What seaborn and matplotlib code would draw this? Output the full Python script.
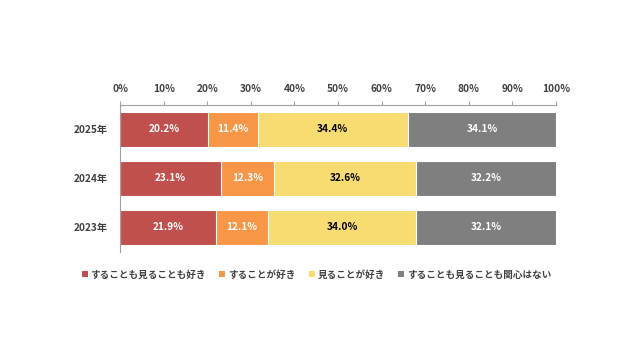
# plot.py
# 100% stacked bar chart of survey answers by year

import seaborn as sns
import matplotlib.pyplot as plt
import pandas as pd
from matplotlib.patches import Patch

# data
years = ["2025年", "2024年", "2023年"]
categories = ["することも見ることも好き", "することが好き", "見ることが好き", "することも見ることも関心はない"]
both_like = [20.2, 23.1, 21.9]
do_like = [11.4, 12.3, 12.1]
watch_like = [34.4, 32.6, 34.0]
no_interest = [34.1, 32.2, 32.1]
xtick_labels = ["0%", "10%", "20%", "30%", "40%", "50%", "60%", "70%", "80%", "90%", "100%"]

colors = ["#C0504D", "#F79646", "#F8DC71", "#7F7F7F"]
text_colors = ["white", "white", "black", "white"]
FS = 7.3


def plot_stacked_bars():
    """ Draw the stacked horizontal bars with seaborn """
    sns.set_style("white")
    plt.rcParams['font.family'] = ['Noto Sans CJK JP', 'DejaVu Sans']

    series = [both_like, do_like, watch_like, no_interest]
    df = pd.DataFrame({"year": years})
    lefts = [[0.0] * len(years)]
    for s in series:
        lefts.append([a + b for a, b in zip(lefts[-1], s)])
    for i in range(len(series)):
        df[f"cum{i}"] = lefts[i + 1]

    fig = plt.figure(figsize=(6.42, 3.59), dpi=100)
    ax = fig.add_axes([0.187, 0.298, 0.679, 0.41])

    # draw from the widest cumulative layer down so each colour sits on top
    for i in reversed(range(len(series))):
        sns.barplot(data=df, x=f"cum{i}", y="year", orient="h", color=colors[i],
                    saturation=1, width=0.7, edgecolor="white", linewidth=0.8, ax=ax)

    for i, s in enumerate(series):
        for j, v in enumerate(s):
            ax.text(lefts[i][j] + v / 2, j, f"{v:.1f}%", ha="center", va="center",
                    color=text_colors[i], fontsize=FS, fontweight="bold")

    ax.set_xlim(0, 100)
    ax.set_ylim(2.5, -0.5)
    ax.set_xticks(range(0, 101, 10))
    ax.set_xticklabels(xtick_labels, fontsize=FS, fontweight="bold", color="#404040")
    ax.xaxis.tick_top()
    ax.set_yticks([0, 1, 2])
    ax.set_yticklabels(years, fontsize=FS, fontweight="bold", color="#404040")
    ax.set_yticks([-0.5, 0.5, 1.5, 2.5], minor=True)
    ax.tick_params(axis="y", which="major", length=0, pad=9)
    ax.tick_params(axis="y", which="minor", length=3, color="#A0A0A0", direction="out")
    ax.tick_params(axis="x", length=3, color="#A0A0A0", direction="out", pad=5)
    ax.set_xlabel("")
    ax.set_ylabel("")
    for side in ["right", "bottom"]:
        ax.spines[side].set_visible(False)
    for side in ["top", "left"]:
        ax.spines[side].set_color("#A0A0A0")
        ax.spines[side].set_linewidth(0.8)

    handles = [Patch(facecolor=c, edgecolor="none") for c in colors]
    fig.legend(handles, categories, loc="center", bbox_to_anchor=(0.493, 0.235), ncol=4,
               frameon=False, prop={"size": 6.9, "weight": "bold"}, labelcolor="#404040",
               handlelength=0.6, handleheight=0.6, handletextpad=0.3, columnspacing=1.4)

    fig.savefig("out.png", dpi=100)


if __name__ == "__main__":
    plot_stacked_bars()
